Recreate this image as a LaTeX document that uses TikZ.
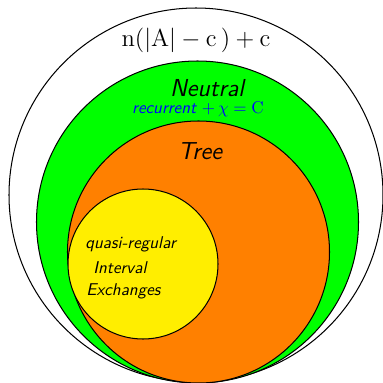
\documentclass[tikz,border=0pt]{standalone}
\usepackage{xcolor}
\usepackage{tikz}
\definecolor{qyellow}{RGB}{255,238,0}
\definecolor{tgreen}{RGB}{0,255,0}
\definecolor{torange}{RGB}{255,128,0}
\tikzstyle{region} = [draw=black, semithick]
\tikzstyle{title}  = [font=\sffamily\itshape\Large]
\tikzstyle{qline}  = [anchor=west, inner sep=0pt, font=\sffamily\itshape]

\begin{document}
\begin{tikzpicture}[x=0.0206cm, y=-0.0206cm]
  \useasboundingbox (0,0) rectangle (383,383);

  % nested classes
  \filldraw[region, fill=white]   (196,195)   circle (187);
  \filldraw[region, fill=tgreen]  (197.5,222) circle (161);
  \filldraw[region, fill=torange] (198.5,252) circle (131);
  \filldraw[region, fill=qyellow] (143,264)   circle (75);

  \node[font=\Large] (count) at (196,40)
    {$\mathrm{n}(|\mathrm{A}|-\mathrm{c}\,)+\mathrm{c}$};
  \node[title] (neutral) at (207,88) {Neutral};
  \node[text=blue] (rec) at (198,109)
    {{\sffamily\itshape recurrent} $+\,\chi=\mathrm{C}$};
  \node[title] (tree) at (200,151) {Tree};

  \node[qline] (q1) at (85,244) {quasi-regular};
  \node[qline] (q2) at (93,268) {Interval};
  \node[qline] (q3) at (86,291) {Exchanges};
\end{tikzpicture}
\end{document}
